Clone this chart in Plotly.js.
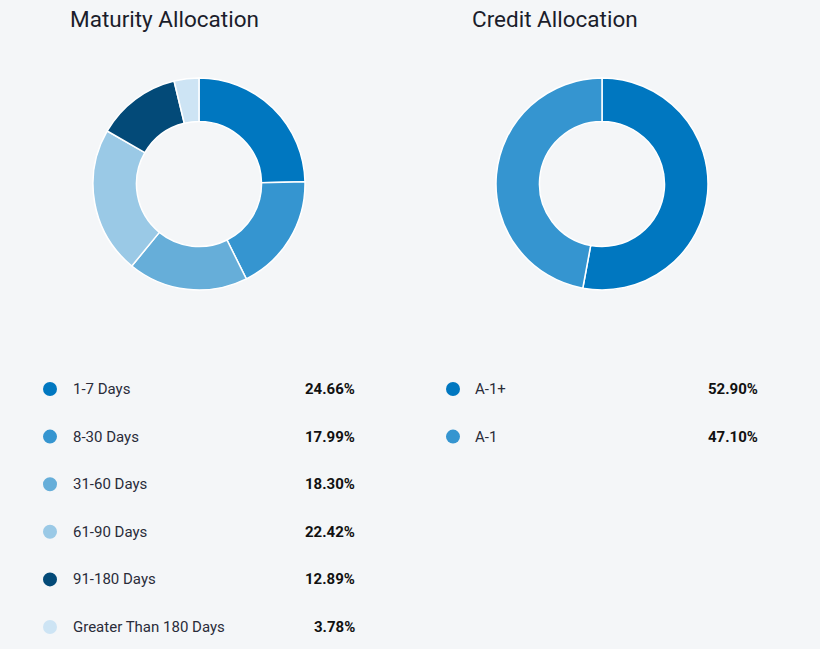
<!DOCTYPE html>
<html><head><meta charset="utf-8">
<script src="https://cdn.plot.ly/plotly-3.0.1.min.js"></script>
<style>html,body{margin:0;padding:0;background:#f4f6f8;}#c{width:820px;height:649px;}</style>
</head><body><div id="c"></div>
<script>
const maturityLabels = ["1-7 Days","8-30 Days","31-60 Days","61-90 Days","91-180 Days","Greater Than 180 Days"];
const maturityValues = [24.66,17.99,18.30,22.42,12.89,3.78];
const maturityColors = ["#0077c0","#3595d0","#66aed9","#9ac9e6","#034a78","#cde4f4"];
const creditLabels = ["A-1+","A-1"];
const creditValues = [52.90,47.10];
const creditColors = ["#0077c0","#3595d0"];

const W = 820, H = 649;
const px = x => x / W, py = y => 1 - y / H;

const traces = [
  {type:"pie", labels:maturityLabels, values:maturityValues, sort:false, direction:"clockwise", rotation:0,
   hole:0.59, marker:{colors:maturityColors, line:{color:"#ffffff", width:1.5}}, textinfo:"none", hoverinfo:"label+percent",
   domain:{x:[px(93),px(305)], y:[py(290),py(78)]}, showlegend:false},
  {type:"pie", labels:creditLabels, values:creditValues, sort:false, direction:"clockwise", rotation:0,
   hole:0.59, marker:{colors:creditColors, line:{color:"#ffffff", width:1.5}}, textinfo:"none", hoverinfo:"label+percent",
   domain:{x:[px(496),px(708)], y:[py(290),py(78)]}, showlegend:false}
];

const annotations = [];
const shapes = [];
function title(text, x){
  annotations.push({text:text, xref:"paper", yref:"paper", x:px(x), y:py(19), xanchor:"left", yanchor:"middle",
    showarrow:false, font:{family:"Roboto, sans-serif", size:22.5, color:"#1b1d2b"}});
}
title("Maturity Allocation", 68);
title("Credit Allocation", 470);

function legend(labels, values, colors, dotX, labelX, valueX){
  const y0 = 389, dy = 47.6, r = 7;
  labels.forEach((lab, i) => {
    const y = y0 + i * dy;
    shapes.push({type:"circle", xref:"paper", yref:"paper", x0:px(dotX-r), x1:px(dotX+r), y0:py(y+r), y1:py(y-r),
      fillcolor:colors[i], line:{width:0}});
    annotations.push({text:lab, xref:"paper", yref:"paper", x:px(labelX), y:py(y), xanchor:"left", yanchor:"middle",
      showarrow:false, font:{family:"Roboto, sans-serif", size:15, color:"#2a2c3a"}});
    annotations.push({text:"<b>" + values[i].toFixed(2) + "%</b>", xref:"paper", yref:"paper", x:px(valueX), y:py(y),
      xanchor:"right", yanchor:"middle", showarrow:false, font:{family:"Roboto, sans-serif", size:15, color:"#111111"}});
  });
}
legend(maturityLabels, maturityValues, maturityColors, 50, 71, 357);
legend(creditLabels, creditValues, creditColors, 453, 473, 760);

Plotly.newPlot("c", traces, {
  width:W, height:H, margin:{l:0,r:0,t:0,b:0}, paper_bgcolor:"#f4f6f8", plot_bgcolor:"#f4f6f8",
  annotations:annotations, shapes:shapes, showlegend:false
}, {displayModeBar:false, staticPlot:true});
</script></body></html>
